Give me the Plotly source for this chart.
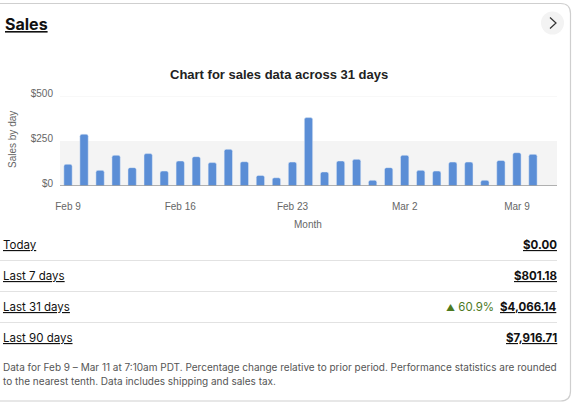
import plotly.graph_objects as go
import pandas as pd

# daily sales, Feb 9 - Mar 11
dias = pd.date_range("2025-02-09", "2025-03-11", freq="D")
vendas = [121, 288, 87, 171, 102, 180, 83, 139, 163, 130, 204, 135, 59, 46, 133,
          380, 78, 139, 148, 32, 102, 171, 87, 83, 133, 133, 32, 142, 185, 176, 0]

tick_vals = ["2025-02-09", "2025-02-16", "2025-02-23", "2025-03-02", "2025-03-09"]
tick_txt = ["Feb 9", "Feb 16", "Feb 23", "Mar 2", "Mar 9"]

periodos = ["Today", "Last 7 days", "Last 31 days", "Last 90 days"]
totais = ["$0.00", "$801.18", "$4,066.14", "$7,916.71"]
variacao = [None, None, "60.9%", None]

W, H = 584, 409
L, R, T, B = 60, 557, 96, 186  # plot area in pixels


def px(x):
    return (x - L) / (R - L)


def py(y):
    return (B - y) / (B - T)


def nota_txt(x, y, texto, **kw):
    d = dict(x=px(x), y=py(y), xref="paper", yref="paper", text=texto, showarrow=False,
             xanchor="center", yanchor="middle")
    d.update(kw)
    return d


fig = go.Figure(go.Bar(
    x=dias, y=vendas,
    marker=dict(color="#5b8ed6", cornerradius=2),
    hoverinfo="skip",
))

shapes = []
annots = []

# card border (left side hidden off-canvas)
x0, x1, y0, y1, r = -10, 570.5, 3.5, 401, 10
card = (f"M {px(x0)},{py(y0)} L {px(x1 - r)},{py(y0)} "
        f"Q {px(x1)},{py(y0)} {px(x1)},{py(y0 + r)} "
        f"L {px(x1)},{py(y1 - r)} Q {px(x1)},{py(y1)} {px(x1 - r)},{py(y1)} "
        f"L {px(x0)},{py(y1)}")
shapes.append(dict(type="path", path=card, xref="paper", yref="paper",
                   line=dict(color="#cfcfcf", width=1.2), layer="below"))

# chevron button
shapes.append(dict(type="circle", xref="paper", yref="paper",
                   x0=px(541), x1=px(564), y0=py(11.5), y1=py(34.5),
                   fillcolor="#f3f3f3", line=dict(width=0), layer="below"))
seta = f"M {px(550)},{py(17.5)} L {px(556)},{py(23)} L {px(550)},{py(28.5)}"
shapes.append(dict(type="path", path=seta, xref="paper", yref="paper",
                   line=dict(color="#333", width=1.2)))

# gray band 0-250 and grid lines
shapes.append(dict(type="rect", xref="paper", yref="y", x0=0, x1=1, y0=0, y1=250,
                   fillcolor="#f4f4f4", line=dict(width=0), layer="below"))
shapes.append(dict(type="line", xref="paper", yref="y", x0=0, x1=1, y0=500, y1=500,
                   line=dict(color="#f2f2f2", width=1), layer="below"))
shapes.append(dict(type="line", xref="paper", yref="y", x0=0, x1=1, y0=0, y1=0,
                   line=dict(color="#9a9a9a", width=1.5), layer="above"))

# Sales header
annots.append(nota_txt(3, 24, "<b><u>Sales</u></b>", xanchor="left",
                       font=dict(family="Inter", size=16, color="#111")))

# chart title
annots.append(nota_txt(279, 74, "<b>Chart for sales data across 31 days</b>",
                       font=dict(family="Liberation Sans", size=13, color="#222")))

# axis titles
annots.append(nota_txt(12, 140, "Sales by day", textangle=-90,
                       font=dict(family="Liberation Sans", size=10, color="#666")))
annots.append(nota_txt(308, 224, "Month",
                       font=dict(family="Liberation Sans", size=10, color="#666")))

# table rows
row_y = [245, 276, 307, 338]
for i, (per, tot) in enumerate(zip(periodos, totais)):
    annots.append(nota_txt(1, row_y[i], f"<u>{per}</u>", xanchor="left",
                           font=dict(family="Inter", size=11.5, color="#111")))
    annots.append(nota_txt(559, row_y[i], f"<b><u>{tot}</u></b>", xanchor="right",
                           font=dict(family="Inter", size=11.5, color="#111")))
    if variacao[i]:
        annots.append(nota_txt(496, row_y[i],
                               f"<span style='font-size:9px'>&#9650;</span> {variacao[i]}",
                               xanchor="right",
                               font=dict(family="Inter", size=11.5, color="#4d7a1f")))
    if i < 3:
        ly = (row_y[i] + row_y[i + 1]) / 2
        shapes.append(dict(type="line", xref="paper", yref="paper", x0=px(0), x1=px(557),
                           y0=py(ly), y1=py(ly), line=dict(color="#e2e2e2", width=1)))

# footnote
nota = ["Data for Feb 9 \u2013 Mar 11 at 7:10am PDT. Percentage change relative to prior period. "
        "Performance statistics are rounded",
        "to the nearest tenth. Data includes shipping and sales tax."]
for j, linha in enumerate(nota):
    annots.append(nota_txt(1, 367 + 14 * j, linha, xanchor="left",
                           font=dict(family="Inter", size=10, color="#555")))

fig.update_layout(
    width=W, height=H,
    margin=dict(l=L, r=W - R, t=T, b=H - B),
    paper_bgcolor="white", plot_bgcolor="rgba(0,0,0,0)",
    bargap=0.48, showlegend=False,
    shapes=shapes, annotations=annots,
    font=dict(family="Liberation Sans", color="#666"),
)
fig.update_xaxes(range=["2025-02-08 12:00", "2025-03-11 12:00"], tickvals=tick_vals,
                 ticktext=tick_txt, showgrid=False, zeroline=False, ticks="",
                 ticklabelstandoff=13,
                 tickfont=dict(size=10, color="#666"), fixedrange=True)
fig.update_yaxes(range=[0, 500], tickvals=[0, 250, 500], ticktext=["$0", "$250", "$500"],
                 showgrid=False, zeroline=False, ticks="", ticklabelstandoff=6,
                 ticklabelshift=-3,
                 tickfont=dict(size=10, color="#666"), fixedrange=True)

fig.write_html("out.html", config={"displayModeBar": False},
               post_script="document.body.style.margin='0';")
